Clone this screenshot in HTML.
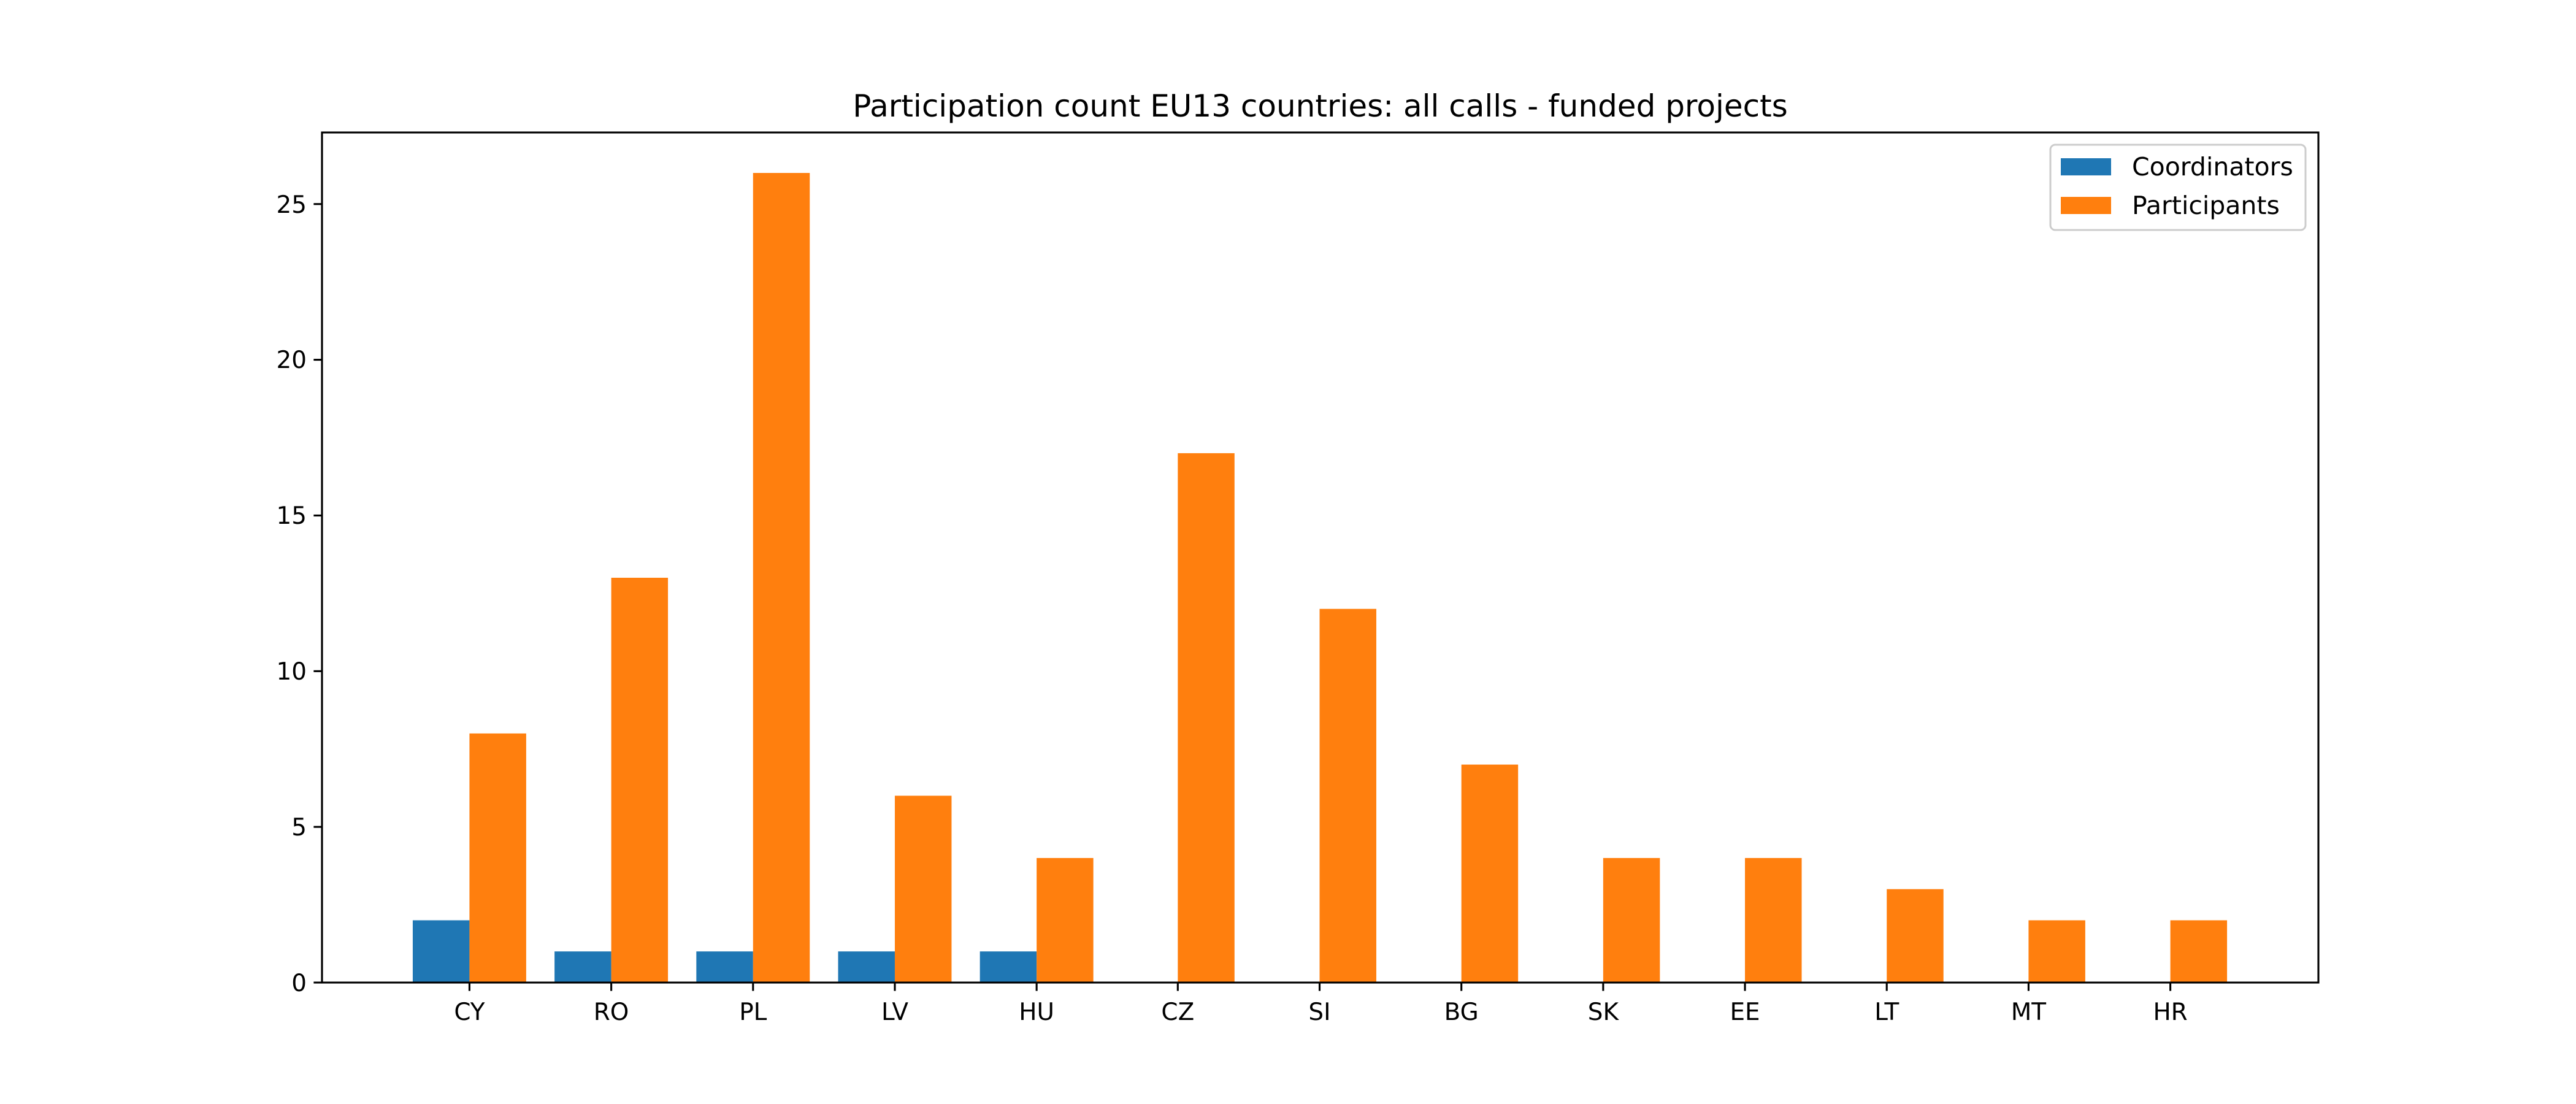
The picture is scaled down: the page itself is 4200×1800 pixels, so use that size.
<!DOCTYPE html>
<html><head><meta charset="utf-8"><style>
html,body{margin:0;padding:0;background:#fff;}
svg{display:block;}
text{font-family:"DejaVu Sans","Liberation Sans",sans-serif;fill:#000;}
</style></head><body>
<svg width="4200" height="1800" viewBox="0 0 4200 1800" xmlns="http://www.w3.org/2000/svg">
<rect width="4200" height="1800" fill="#fff"/>
<g transform="translate(0,1602) scale(1,-50.77)">
<g fill="#1f77b4">
<rect x="672.96" y="0" width="92.47" height="2"/>
<rect x="904.14" y="0" width="92.47" height="1"/>
<rect x="1135.32" y="0" width="92.47" height="1"/>
<rect x="1366.50" y="0" width="92.47" height="1"/>
<rect x="1597.68" y="0" width="92.47" height="1"/>
</g>
<g fill="#ff7f0e">
<rect x="765.43" y="0" width="92.47" height="8"/>
<rect x="996.61" y="0" width="92.47" height="13"/>
<rect x="1227.79" y="0" width="92.47" height="26"/>
<rect x="1458.97" y="0" width="92.47" height="6"/>
<rect x="1690.15" y="0" width="92.47" height="4"/>
<rect x="1920.33" y="0" width="92.47" height="17"/>
<rect x="2151.51" y="0" width="92.47" height="12"/>
<rect x="2382.69" y="0" width="92.47" height="7"/>
<rect x="2613.87" y="0" width="92.47" height="4"/>
<rect x="2845.05" y="0" width="92.47" height="4"/>
<rect x="3076.23" y="0" width="92.47" height="3"/>
<rect x="3307.41" y="0" width="92.47" height="2"/>
<rect x="3538.59" y="0" width="92.47" height="2"/>
</g>
</g>
<rect x="525" y="216" width="3255" height="1386" fill="none" stroke="#000" stroke-width="3.1"/>
<g stroke="#000" stroke-width="3.1">
<line x1="525" x2="511.4" y1="1602" y2="1602"/>
<line x1="525" x2="511.4" y1="1348.2" y2="1348.2"/>
<line x1="525" x2="511.4" y1="1094.3" y2="1094.3"/>
<line x1="525" x2="511.4" y1="840.5" y2="840.5"/>
<line x1="525" x2="511.4" y1="586.6" y2="586.6"/>
<line x1="525" x2="511.4" y1="332.7" y2="332.7"/>
</g>
<g font-size="38.9" text-anchor="end">
<text x="500" y="1616">0</text>
<text x="500" y="1362">5</text>
<text x="500" y="1108">10</text>
<text x="500" y="854">15</text>
<text x="500" y="600">20</text>
<text x="500" y="347">25</text>
</g>
<g stroke="#000" stroke-width="3.1">
<line x1="765.43" x2="765.43" y1="1602" y2="1615.6"/>
<line x1="996.61" x2="996.61" y1="1602" y2="1615.6"/>
<line x1="1227.79" x2="1227.79" y1="1602" y2="1615.6"/>
<line x1="1458.97" x2="1458.97" y1="1602" y2="1615.6"/>
<line x1="1690.15" x2="1690.15" y1="1602" y2="1615.6"/>
<line x1="1920.33" x2="1920.33" y1="1602" y2="1615.6"/>
<line x1="2151.51" x2="2151.51" y1="1602" y2="1615.6"/>
<line x1="2382.69" x2="2382.69" y1="1602" y2="1615.6"/>
<line x1="2613.87" x2="2613.87" y1="1602" y2="1615.6"/>
<line x1="2845.05" x2="2845.05" y1="1602" y2="1615.6"/>
<line x1="3076.23" x2="3076.23" y1="1602" y2="1615.6"/>
<line x1="3307.41" x2="3307.41" y1="1602" y2="1615.6"/>
<line x1="3538.59" x2="3538.59" y1="1602" y2="1615.6"/>
</g>
<g font-size="38.9" text-anchor="middle">
<text x="765.43" y="1663">CY</text>
<text x="996.61" y="1663">RO</text>
<text x="1227.79" y="1663">PL</text>
<text x="1458.97" y="1663">LV</text>
<text x="1690.15" y="1663">HU</text>
<text x="1920.33" y="1663">CZ</text>
<text x="2151.51" y="1663">SI</text>
<text x="2382.69" y="1663">BG</text>
<text x="2613.87" y="1663">SK</text>
<text x="2845.05" y="1663">EE</text>
<text x="3076.23" y="1663">LT</text>
<text x="3307.41" y="1663">MT</text>
<text x="3538.59" y="1663">HR</text>
</g>
<text x="2152.5" y="190" font-size="50" text-anchor="middle">Participation count EU13 countries: all calls - funded projects</text>
<rect x="3343" y="236" width="416" height="139" rx="8" fill="#fff" fill-opacity="0.8" stroke="#ccc" stroke-width="3"/>
<rect x="3360" y="258" width="82" height="28" fill="#1f77b4"/>
<rect x="3360" y="321" width="82" height="28" fill="#ff7f0e"/>
<g font-size="41">
<text x="3476" y="286">Coordinators</text>
<text x="3476" y="349">Participants</text>
</g>
</svg>
</body></html>
